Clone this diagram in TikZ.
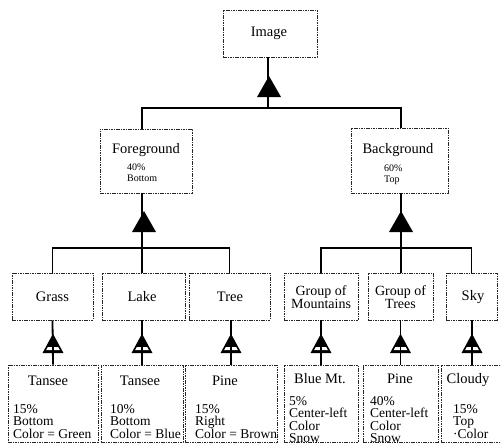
\documentclass[tikz,border=0pt]{standalone}
\usepackage{fontspec}
\setmainfont{Liberation Serif}
\begin{document}
\begin{tikzpicture}[x=1pt,y=-1pt,
  box/.style={draw=black!85, dash pattern=on 1.6pt off 0.8pt, line width=0.7pt,
    rectangle, inner sep=0pt},
  conn/.style={line width=1.8pt, black},
  title/.style={font=\fontsize{14.5}{15}\selectfont, inner sep=0pt, align=center},
  small/.style={font=\fontsize{10}{11}\selectfont, inner sep=0pt, align=left, anchor=north west},
  detail/.style={font=\fontsize{13.5}{12.5}\selectfont, inner sep=0pt, align=left, anchor=north west},
  bigtri/.pic={\fill[black] (0,-11) -- (12,10) -- (-12,10) -- cycle;},
  smalltri/.pic={
    \fill[black] (0,-9) -- (9.5,8.5) -- (-9.5,8.5) -- cycle;
    \fill[white] (-5.2,3) -- (5.2,3) -- (6.8,6) -- (-6.8,6) -- cycle;
    \draw[line width=1.2pt, line join=miter] (0,-9) -- (9.5,8.5) -- (-9.5,8.5) -- cycle;
    \draw[line width=1.6pt] (0,0) -- (0,8.5);}
]
\useasboundingbox (0,0) rectangle (500,444);
\clip (0,0) rectangle (500,444);

% ---------- boxes ----------
\node[box, minimum width=94pt, minimum height=47pt] (img) at (270,33.5) {};
\node[box, minimum width=92pt, minimum height=64pt] (fg) at (146,161) {};
\node[box, minimum width=97pt, minimum height=65pt] (bg) at (399.5,160.5) {};

\node[box, minimum width=81pt, minimum height=47pt] (grass) at (52.5,296.5) {};
\node[box, minimum width=83pt, minimum height=47pt] (lake)  at (143.5,296.5) {};
\node[box, minimum width=81pt, minimum height=47pt] (tree)  at (229.5,296.5) {};
\node[box, minimum width=74pt, minimum height=47pt] (mount) at (321,296.5) {};
\node[box, minimum width=65pt, minimum height=47pt] (trees) at (400.5,296.5) {};
\node[box, minimum width=51pt, minimum height=47pt] (sky)   at (471.5,296.5) {};

\node[box, minimum width=90pt, minimum height=77pt] (tan1)  at (53,403.5) {};
\node[box, minimum width=82pt, minimum height=77pt] (tan2)  at (142,403.5) {};
\node[box, minimum width=92pt, minimum height=77pt] (pine1) at (231,403.5) {};
\node[box, minimum width=74pt, minimum height=77pt] (bluemt) at (321,403.5) {};
\node[box, minimum width=75pt, minimum height=77pt] (pine2) at (400.5,403.5) {};
\node[box, minimum width=62pt, minimum height=77pt] (cloudy) at (472,403.5) {};

% ---------- texts ----------
\node[title] (imgT) at (269,33) {Image};
\node[title] (fgT) at (146,150) {Foreground};
\node[small] (fgD) at (127,164) {40\%\\Bottom};
\node[title] (bgT) at (398,150) {Background};
\node[small] (bgD) at (384,165) {60\%\\Top};

\node[title] (grassT) at (52.5,297) {Grass};
\node[title] (lakeT)  at (142,297) {Lake};
\node[title] (treeT)  at (230,297) {Tree};
\node[title, font=\fontsize{14}{13.5}\selectfont] (mountT) at (321,297) {Group of\\Mountains};
\node[title, font=\fontsize{14}{13.5}\selectfont] (treesT) at (400.5,297) {Group of\\Trees};
\node[title] (skyT)   at (473,297) {Sky};

\node[title] (tan1T)   at (48,381) {Tansee};
\node[detail] (tan1D)  at (13,404) {15\%\\Bottom\\Color = Green};
\node[title] (tan2T)   at (140,381) {Tansee};
\node[detail] (tan2D)  at (110,404) {10\%\\Bottom\\Color = Blue};
\node[title] (pine1T)  at (225,381) {Pine};
\node[detail] (pine1D) at (195,404) {15\%\\Right\\Color = Brown};
\node[title] (bluemtT) at (320,379) {Blue Mt.};
\node[detail] (bluemtD) at (289,396) {5\%\\Center-left\\Color\\Snow};
\node[title] (pine2T)  at (400,379) {Pine};
\node[detail] (pine2D) at (370,396) {40\%\\Center-left\\Color\\Snow};
\node[title] (cloudyT) at (468,380) {Cloudy};
\node[detail] (cloudyD) at (453,404) {15\%\\Top\\·Color};

% ---------- connectors ----------
\coordinate (j0) at (268,108);
\coordinate (jf) at (142,248);
\coordinate (jb) at (401,248);

\draw[conn] (img.south -| j0) -- (j0);
\draw[conn] (fg.north -| jf) |- (j0) -| (bg.north -| jb);
\draw[conn] (fg.south -| jf) -- (jf);
\draw[conn] (bg.south -| jb) -- (jb);
\draw[conn] (grass.north) |- (jf) -| (tree.north);
\draw[conn] (lake.north -| jf) -- (jf);
\draw[conn] (mount.north) |- (jb) -| (sky.north);
\draw[conn] (trees.north -| jb) -- (jb);

\draw[conn] (grass.south) -- (tan1.north);
\draw[conn] (lake.south -| tan2.north) -- (tan2.north);
\draw[conn] (tree.south -| pine1.north) -- (pine1.north);
\draw[conn] (mount.south) -- (bluemt.north);
\draw[conn] (trees.south) -- (pine2.north);
\draw[conn] (sky.south -| cloudy.north) -- (cloudy.north);

% ---------- arrow triangles ----------
\pic at (269,87) {bigtri};
\pic at (144,222) {bigtri};
\pic at (401,222) {bigtri};

\pic at (53,344) {smalltri};
\pic at (142,344) {smalltri};
\pic at (231,344) {smalltri};
\pic at (321,344) {smalltri};
\pic at (400.5,344) {smalltri};
\pic at (472,344) {smalltri};
\end{tikzpicture}
\end{document}
